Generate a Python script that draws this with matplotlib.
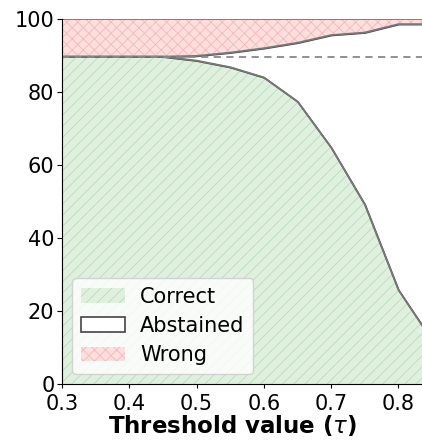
import matplotlib.pyplot as plt
import matplotlib as mpl

# thresholds and percentages
thresholds = [0.30, 0.35, 0.40, 0.45, 0.50, 0.55, 0.60, 0.65, 0.70, 0.75, 0.80, 0.85]
correct = [89.7, 89.7, 89.7, 89.7, 88.6, 86.8, 84.0, 77.4, 64.8, 49.2, 25.8, 12.0]
wrong = [10.3, 10.3, 10.3, 10.3, 10.1, 9.2, 8.0, 6.5, 4.4, 3.7, 1.4, 1.4]

mpl.rcParams['hatch.linewidth'] = 0.6

fig = plt.figure(figsize=(4.22, 4.42), dpi=100)
ax = fig.add_axes([0.147, 0.131, 0.853, 0.826])

upper = [100 - w for w in wrong]

mpl.rcParams['hatch.color'] = '#b9dcb9'
ax.fill_between(thresholds, 0, correct, facecolor='#dff0df', hatch='///',
                edgecolor='#b9dcb9', linewidth=0, label='Correct')
ax.fill_between(thresholds, correct, upper, facecolor='white',
                edgecolor='#444444', linewidth=1.2, label='Abstained')
ax.fill_between(thresholds, upper, 100, facecolor='#ffdede', hatch='xxx',
                edgecolor='#f5b8b8', linewidth=0, label='Wrong')

# outline curves
ax.plot(thresholds, correct, color='#777777', lw=1.3)
ax.plot(thresholds, upper, color='#777777', lw=1.3)
ax.plot(thresholds, [100] * len(thresholds), color='#777777', lw=1.3)
ax.axhline(correct[0], color='#888888', ls='--', lw=1.3, dashes=(4, 3))

ax.set_xlim(0.3, 0.835)
ax.set_ylim(0, 100)
ax.set_xticks([0.3, 0.4, 0.5, 0.6, 0.7, 0.8])
ax.set_yticks([0, 20, 40, 60, 80, 100])
ax.tick_params(labelsize=15)
ax.tick_params(axis='y', pad=2)
ax.tick_params(axis='x', pad=4, length=3)
ax.spines['top'].set_visible(False)
ax.spines['right'].set_visible(False)
ax.set_xlabel(r'Threshold value ($\tau$)', fontsize=16.5, fontweight='bold')
ax.xaxis.set_label_coords(0.473, -0.078)

ax.legend(loc='lower left', fontsize=15, handlelength=2.1, handletextpad=0.75,
          borderaxespad=0.5, labelspacing=0.45)

fig.savefig('out.png', dpi=100)
